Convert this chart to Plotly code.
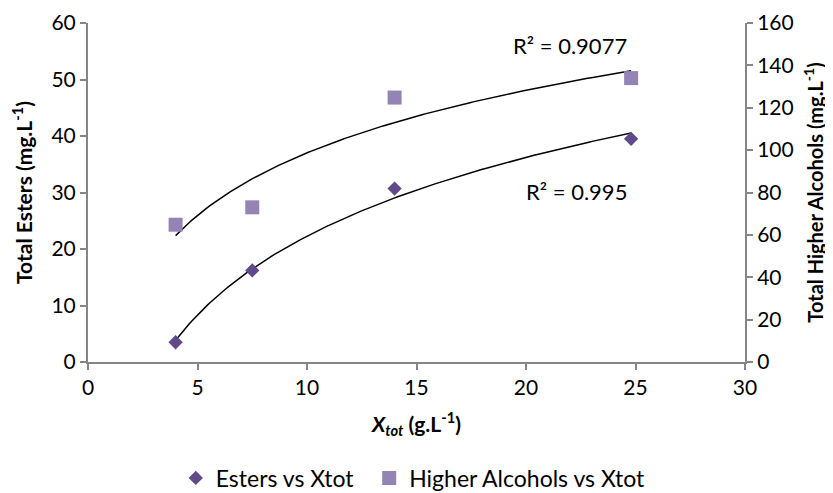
import numpy as np
import plotly.graph_objects as go

# Data
x_tot = [4.0, 7.5, 14.0, 24.8]
esters = [3.5, 16.2, 30.7, 39.5]
higher_alcohols = [64.8, 73.0, 124.8, 134.0]
r2_esters = "R² = 0.995"
r2_alcohols = "R² = 0.9077"
x_ticks = [0, 5, 10, 15, 20, 25, 30]
left_ticks = [0, 10, 20, 30, 40, 50, 60]
right_ticks = [0, 20, 40, 60, 80, 100, 120, 140, 160]

FONT = "Lato, 'Open Sans', sans-serif"
AX = "#868686"

def log_fit(x, y):
    a, b = np.polyfit(np.log(x), y, 1)
    xs = np.linspace(min(x), max(x), 200)
    return xs, a * np.log(xs) + b

fig = go.Figure()

xs, ys = log_fit(x_tot, esters)
fig.add_trace(go.Scatter(x=xs, y=ys, mode="lines", line=dict(color="black", width=1.5),
                         showlegend=False, hoverinfo="skip"))
xs2, ys2 = log_fit(x_tot, higher_alcohols)
fig.add_trace(go.Scatter(x=xs2, y=ys2, mode="lines", line=dict(color="black", width=1.5),
                         showlegend=False, hoverinfo="skip", yaxis="y2"))

fig.add_trace(go.Scatter(x=x_tot, y=esters, mode="markers", name="Esters vs Xtot",
                         marker=dict(symbol="diamond", size=11, color="#604A8C"), legend="legend"))
fig.add_trace(go.Scatter(x=x_tot, y=higher_alcohols, mode="markers", name="Higher Alcohols vs Xtot",
                         marker=dict(symbol="square", size=14, color="#9484B6"), yaxis="y2",
                         legend="legend2"))

fig.add_annotation(x=24.7, y=56.1, xref="x", yref="y", text=r2_alcohols, showarrow=False,
                   xanchor="right", yanchor="middle", font=dict(size=22, color="black", family=FONT))
fig.add_annotation(x=24.7, y=30.1, xref="x", yref="y", text=r2_esters, showarrow=False,
                   xanchor="right", yanchor="middle", font=dict(size=22, color="black", family=FONT))

axcommon = dict(showgrid=False, zeroline=False, showline=True, linecolor=AX, linewidth=2,
                ticks="outside", tickcolor=AX, ticklen=6, tickwidth=1.5,
                tickfont=dict(size=21), automargin=False)

legcommon = dict(orientation="h", xanchor="left", xref="paper", yref="container",
                 y=0.031, yanchor="middle", font=dict(size=23), itemwidth=30,
                 bgcolor="rgba(0,0,0,0)")

fig.update_layout(
    width=825, height=485,
    margin=dict(l=80, r=88, t=15, b=131),
    plot_bgcolor="white", paper_bgcolor="white",
    font=dict(family=FONT, color="black", size=21),
    xaxis=dict(range=[0, 30], tickvals=x_ticks, **axcommon,
               title=dict(text="<b><i>X</i><sub><i>tot</i></sub> (g.L<sup>-1</sup>)</b>",
                          font=dict(size=21), standoff=19)),
    yaxis=dict(range=[0, 60], tickvals=left_ticks, **axcommon,
               title=dict(text="<b>Total Esters (mg.L<sup>-1</sup>)</b>", font=dict(size=21), standoff=16)),
    yaxis2=dict(range=[0, 160], tickvals=right_ticks, overlaying="y", side="right", **axcommon,
                title=dict(text="<b>Total Higher Alcohols (mg.L<sup>-1</sup>)</b>", font=dict(size=20), standoff=16)),
    legend=dict(x=0.1336, **legcommon),
    legend2=dict(x=0.428, **legcommon),
)

fig.write_html("out.html")
